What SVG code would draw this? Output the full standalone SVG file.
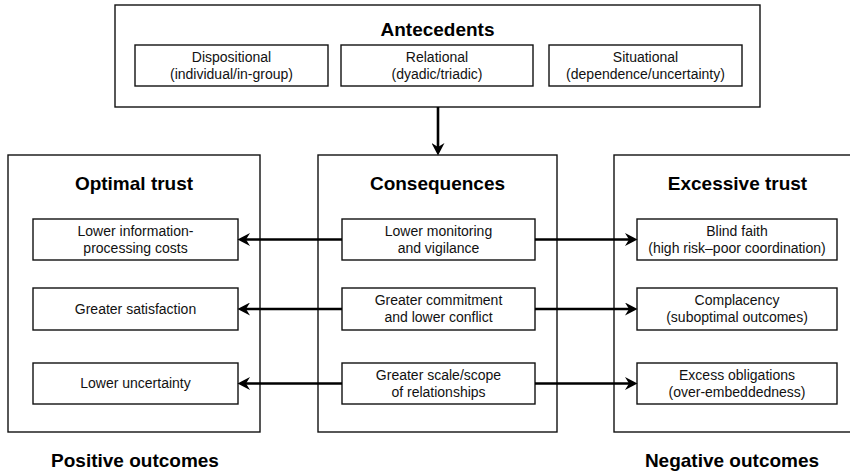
<svg xmlns="http://www.w3.org/2000/svg" width="850" height="471" viewBox="0 0 850 471">
  <style>
    .box { fill: #fff; stroke: #111; stroke-width: 1.4; }
    .title { font-family: "Liberation Sans", Arial, sans-serif; font-weight: bold; font-size: 19px; fill: #000; text-anchor: middle; }
    .txt { font-family: "Liberation Sans", Arial, sans-serif; font-size: 14px; fill: #111; text-anchor: middle; }
    .link { fill: none; stroke: #000; stroke-width: 2.6; marker-end: url(#arrow); }
  </style>
  <defs>
    <marker id="arrow" markerUnits="userSpaceOnUse" markerWidth="13" markerHeight="13" refX="6" refY="6.5" orient="auto">
      <path d="M0,0 L12.5,6.5 L0,13 L4,6.5 Z" fill="#000"/>
    </marker>
  </defs>

  <rect width="850" height="471" fill="#fff"/>

  <!-- Antecedents -->
  <g id="antecedents">
    <rect class="box" x="115" y="5" width="645" height="102"/>
    <text class="title" x="437.5" y="36">Antecedents</text>
  </g>
  <g id="dispositional">
    <rect class="box" x="135" y="45" width="193" height="41"/>
    <text class="txt" x="231.5" y="62">Dispositional</text>
    <text class="txt" x="231.5" y="79">(individual/in-group)</text>
  </g>
  <g id="relational">
    <rect class="box" x="341" y="45" width="192" height="41"/>
    <text class="txt" x="437" y="62">Relational</text>
    <text class="txt" x="437" y="79">(dyadic/triadic)</text>
  </g>
  <g id="situational">
    <rect class="box" x="549" y="45" width="193" height="41"/>
    <text class="txt" x="645.5" y="62">Situational</text>
    <text class="txt" x="645.5" y="79">(dependence/uncertainty)</text>
  </g>

  <!-- Optimal trust -->
  <g id="optimal-trust">
    <rect class="box" x="8" y="155" width="252" height="277"/>
    <text class="title" x="134" y="190">Optimal trust</text>
  </g>
  <g id="lower-info-costs">
    <rect class="box" x="33" y="219" width="205" height="41"/>
    <text class="txt" x="135.5" y="236">Lower information-</text>
    <text class="txt" x="135.5" y="253">processing costs</text>
  </g>
  <g id="greater-satisfaction">
    <rect class="box" x="33" y="288" width="205" height="42"/>
    <text class="txt" x="135.5" y="314">Greater satisfaction</text>
  </g>
  <g id="lower-uncertainty">
    <rect class="box" x="33" y="363" width="205" height="41"/>
    <text class="txt" x="135.5" y="388">Lower uncertainty</text>
  </g>

  <!-- Consequences -->
  <g id="consequences">
    <rect class="box" x="318" y="155" width="239" height="277"/>
    <text class="title" x="437.5" y="190">Consequences</text>
  </g>
  <g id="lower-monitoring">
    <rect class="box" x="342" y="219" width="193" height="41"/>
    <text class="txt" x="438.5" y="236">Lower monitoring</text>
    <text class="txt" x="438.5" y="253">and vigilance</text>
  </g>
  <g id="greater-commitment">
    <rect class="box" x="342" y="288" width="193" height="42"/>
    <text class="txt" x="438.5" y="305">Greater commitment</text>
    <text class="txt" x="438.5" y="322">and lower conflict</text>
  </g>
  <g id="greater-scale">
    <rect class="box" x="342" y="363" width="193" height="41"/>
    <text class="txt" x="438.5" y="380">Greater scale/scope</text>
    <text class="txt" x="438.5" y="397">of relationships</text>
  </g>

  <!-- Excessive trust -->
  <g id="excessive-trust">
    <rect class="box" x="614" y="155" width="250" height="277"/>
    <text class="title" x="737.5" y="190">Excessive trust</text>
  </g>
  <g id="blind-faith">
    <rect class="box" x="637" y="219" width="200" height="41"/>
    <text class="txt" x="737" y="236">Blind faith</text>
    <text class="txt" x="737" y="253">(high risk–poor coordination)</text>
  </g>
  <g id="complacency">
    <rect class="box" x="637" y="288" width="200" height="42"/>
    <text class="txt" x="737" y="305">Complacency</text>
    <text class="txt" x="737" y="322">(suboptimal outcomes)</text>
  </g>
  <g id="excess-obligations">
    <rect class="box" x="637" y="363" width="200" height="41"/>
    <text class="txt" x="737" y="380">Excess obligations</text>
    <text class="txt" x="737" y="397">(over-embeddedness)</text>
  </g>

  <!-- Outcome captions -->
  <g id="positive-outcomes">
    <text class="title" x="135" y="467">Positive outcomes</text>
  </g>
  <g id="negative-outcomes">
    <text class="title" x="732" y="467">Negative outcomes</text>
  </g>

  <!-- Connectors -->
  <g id="connectors">
    <path class="link" d="M438,107 L438,149"/>
    <path class="link" d="M342,239.5 L244,239.5"/>
    <path class="link" d="M342,309 L244,309"/>
    <path class="link" d="M342,383.5 L244,383.5"/>
    <path class="link" d="M535,239.5 L631,239.5"/>
    <path class="link" d="M535,309 L631,309"/>
    <path class="link" d="M535,383.5 L631,383.5"/>
  </g>
</svg>
